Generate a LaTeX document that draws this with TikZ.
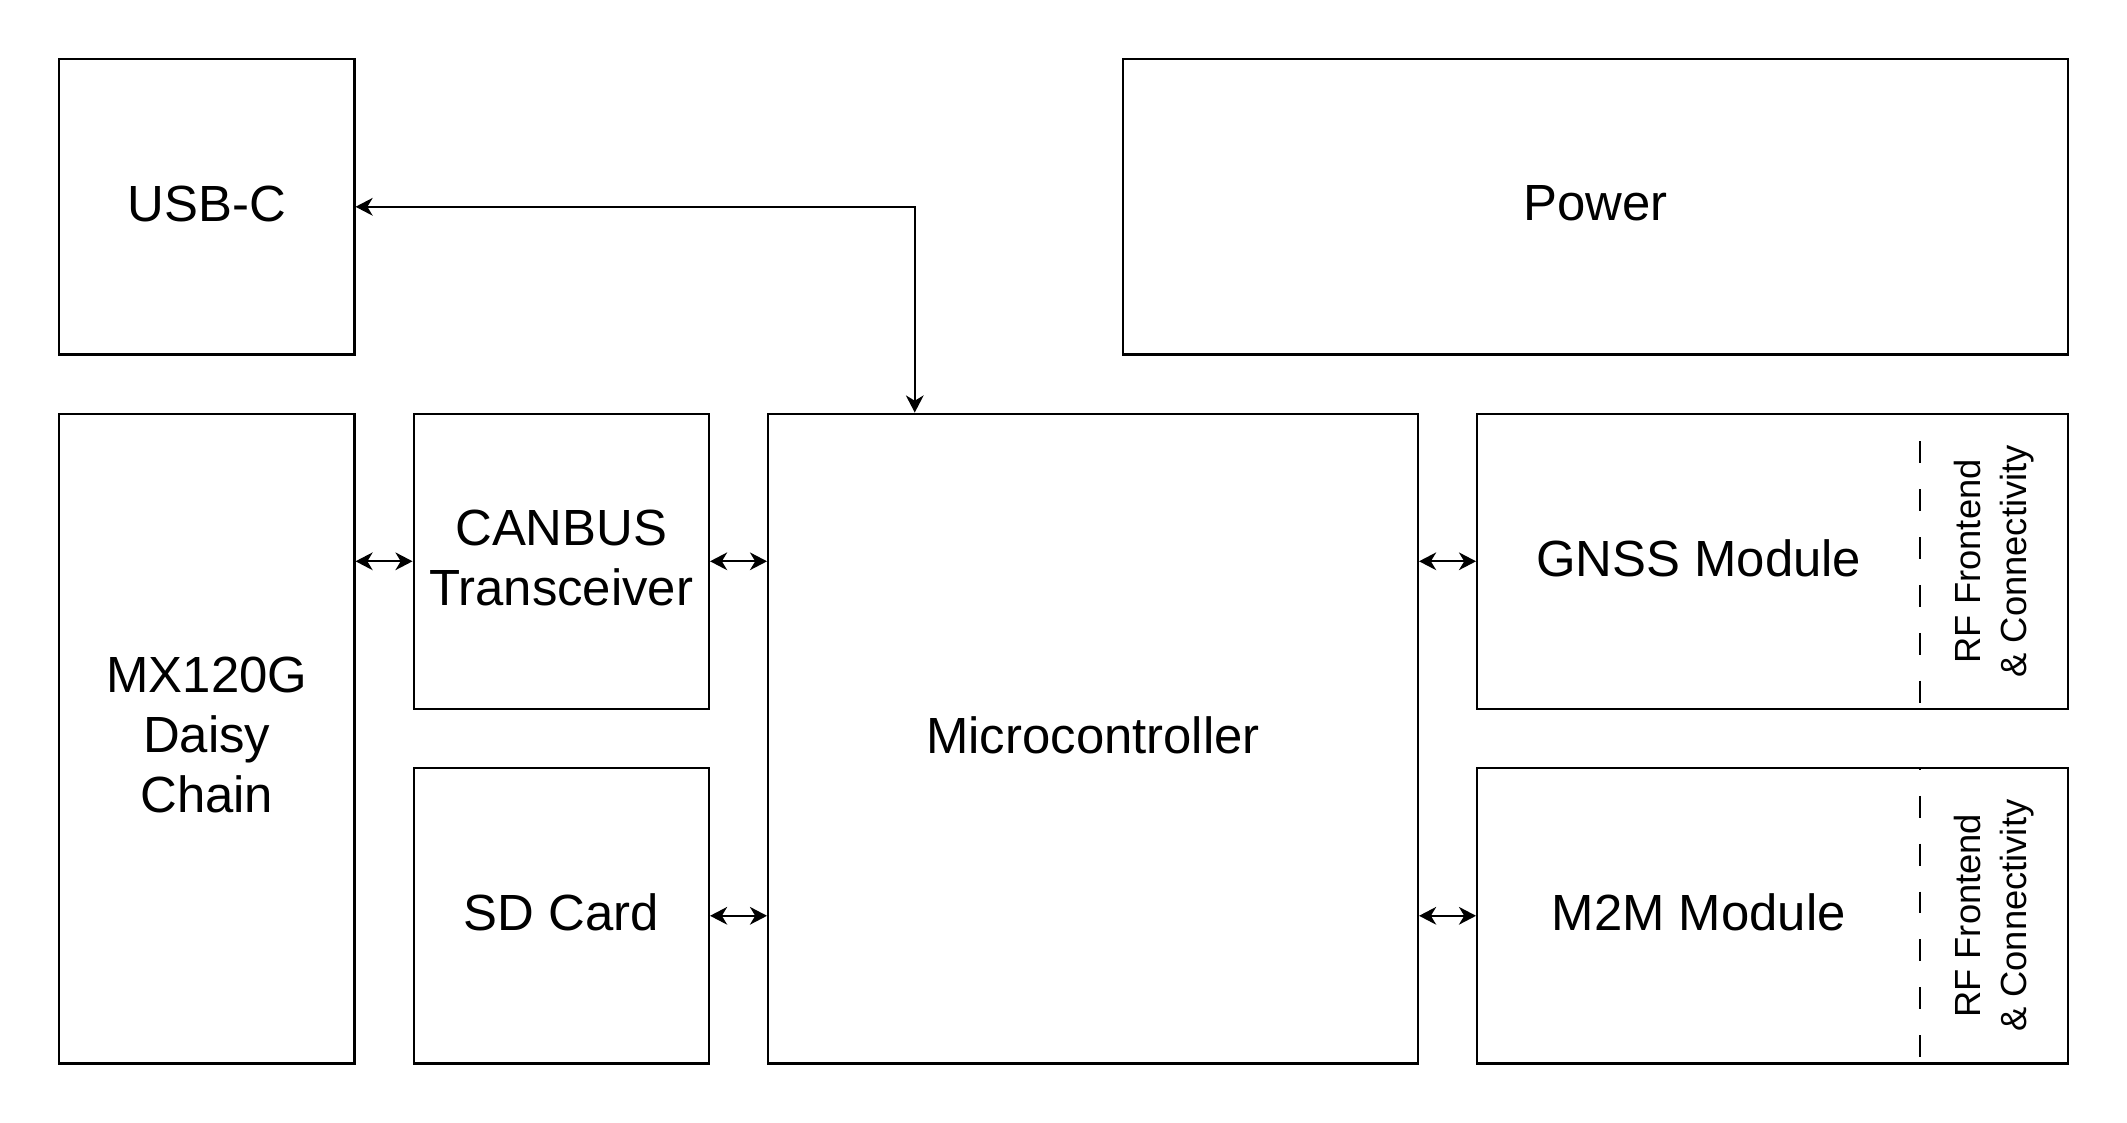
\documentclass[tikz,border=0pt]{standalone}
\usepackage{fontspec}
\setmainfont{Liberation Sans}
\usetikzlibrary{arrows.meta,positioning}
\tikzset{
  box/.style={draw=black, line width=1pt, inner sep=0pt, align=center,
    text depth=0.12cm, font=\fontsize{24.5}{29}\selectfont},
  tip/.style={Stealth[length=0.29cm,width=0.3cm,inset=0.09cm]},
  link/.style={line width=1pt, {Stealth[length=0.29cm,width=0.3cm,inset=0.09cm]}-{Stealth[length=0.29cm,width=0.3cm,inset=0.09cm]}},
  rfline/.style={line width=1pt, dash pattern=on 0.37cm off 0.44cm, dash phase=0.34cm},
  rftext/.style={rotate=90, align=center, font=\fontsize{17.5}{22}\selectfont},
  modtext/.style={text depth=0.12cm, font=\fontsize{24.5}{29}\selectfont}
}
\begin{document}
\begin{tikzpicture}
\useasboundingbox (0,0) rectangle (36,-19);
\node[box, minimum width=5cm, minimum height=5cm] (usb) at (3.5,-3.5) {USB-C};
\node[box, minimum width=16cm, minimum height=5cm] (power) at (27,-3.5) {Power};
\node[box, minimum width=5cm, minimum height=11cm] (mx) at (3.5,-12.5) {MX120G\\Daisy\\Chain};
\node[box, minimum width=5cm, minimum height=5cm] (can) at (9.5,-9.5) {CANBUS\\Transceiver};
\node[box, minimum width=5cm, minimum height=5cm] (sd) at (9.5,-15.5) {SD Card};
\node[box, minimum width=11cm, minimum height=11cm] (mcu) at (18.5,-12.5) {Microcontroller};
% GNSS module
\node[box, minimum width=10cm, minimum height=5cm] (gnss) at (30,-9.5) {};
\node[modtext] (gnsst) at (28.75,-9.5) {GNSS Module};
\coordinate (gtop) at (32.5,-7);
\coordinate (gbot) at (32.5,-12);
\draw[rfline] (gtop) -- (gbot);
\node[rftext] (grf) at (33.75,-9.5) {RF Frontend\\\& Connectivity};
% M2M module
\node[box, minimum width=10cm, minimum height=5cm] (m2m) at (30,-15.5) {};
\node[modtext] (m2mt) at (28.75,-15.5) {M2M Module};
\coordinate (mtop) at (32.5,-13);
\coordinate (mbot) at (32.5,-18);
\draw[rfline] (mtop) -- (mbot);
\node[rftext] (mrf) at (33.75,-15.5) {RF Frontend\\\& Connectivity};
% connectors
\draw[link] (usb.east) -| ([xshift=2.5cm]mcu.north west);
\draw[link] (mx.east |- can.west) -- (can.west);
\draw[link] (can.east) -- (mcu.west |- can.east);
\draw[link] (sd.east) -- (mcu.west |- sd.east);
\draw[link] (mcu.east |- gnss.west) -- (gnss.west);
\draw[link] (mcu.east |- m2m.west) -- (m2m.west);
\end{tikzpicture}
\end{document}
